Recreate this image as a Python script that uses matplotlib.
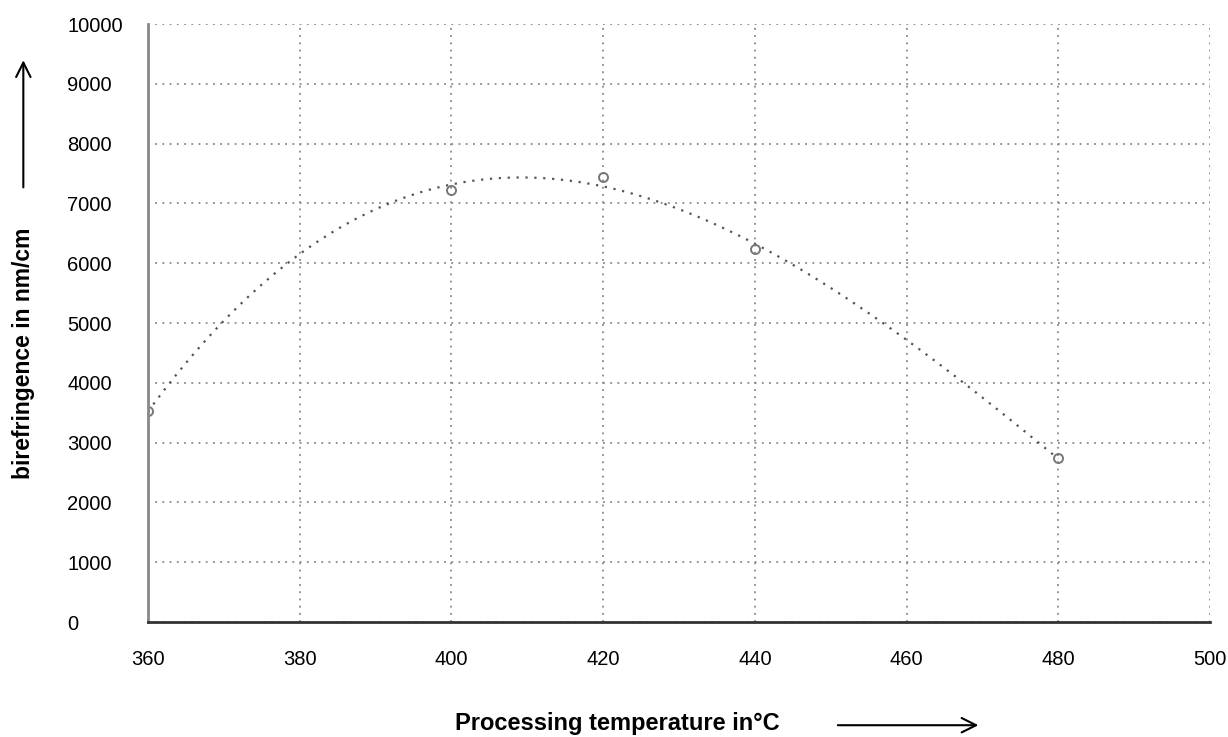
import numpy as np
import matplotlib.pyplot as plt

plt.rcParams['font.family'] = ['Liberation Sans', 'DejaVu Sans']

temperature = [360, 400, 420, 440, 480]
birefringence = [3530, 7230, 7440, 6240, 2740]
x_ticks = [360, 380, 400, 420, 440, 460, 480, 500]
y_ticks = [0, 1000, 2000, 3000, 4000, 5000, 6000, 7000, 8000, 9000, 10000]

fig = plt.figure(figsize=(12.28, 7.37), dpi=100)
ax = fig.add_axes([0.1205, 0.156, 0.8648, 0.8114])

# polynomial trendline through the measured points
coef = np.polyfit(temperature, birefringence, 3)
xs = np.linspace(360, 480, 200)
ax.plot(xs, np.polyval(coef, xs), linestyle=(0, (1, 3)), color='#555555', linewidth=1.6)
ax.plot(temperature, birefringence, 'o', markerfacecolor='none',
        markeredgecolor='#777777', markersize=6.5, markeredgewidth=1.4)

ax.set_xlim(360, 500)
ax.set_ylim(0, 10000)
ax.set_xticks(x_ticks)
ax.set_yticks(y_ticks)
ax.grid(True, linestyle=(0, (1, 3)), color='#888888', linewidth=1.3)
ax.tick_params(length=0, labelsize=14.5)
ax.tick_params(axis='x', pad=20)
ax.tick_params(axis='y', pad=58)
for lbl in ax.get_yticklabels():
    lbl.set_horizontalalignment('left')

for s in ['top', 'right']:
    ax.spines[s].set_visible(False)
ax.spines['left'].set_color('#888888')
ax.spines['left'].set_linewidth(2)
ax.spines['bottom'].set_color('#333333')
ax.spines['bottom'].set_linewidth(2)

fig.text(0.503, 0.003, 'Processing temperature in°C', fontsize=17,
         fontweight='bold', ha='center', va='bottom')
fig.text(0.019, 0.52, 'birefringence in nm/cm', fontsize=16.5, fontweight='bold',
         rotation=90, ha='center', va='center')
fig.add_artist(plt.Annotation('', xy=(0.799, 0.016), xytext=(0.68, 0.016),
                              xycoords='figure fraction',
                              arrowprops=dict(arrowstyle='->', lw=1.5, color='black',
                                              mutation_scale=26)))
fig.add_artist(plt.Annotation('', xy=(0.019, 0.922), xytext=(0.019, 0.742),
                              xycoords='figure fraction',
                              arrowprops=dict(arrowstyle='->', lw=1.5, color='black',
                                              mutation_scale=26)))

plt.savefig('out.png', dpi=100)
